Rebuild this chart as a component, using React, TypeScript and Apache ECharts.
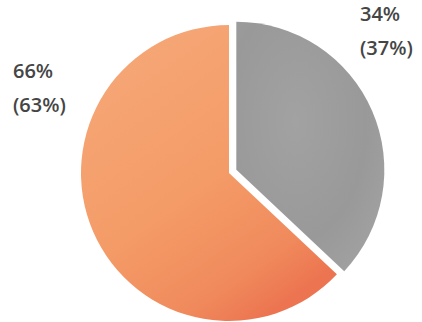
import React, { useEffect, useRef } from "react";
import * as echarts from "echarts";

const categories = ["Gray", "Orange"];
const values = [34, 66];
const compareValues = [37, 63];

export default function App() {
  const ref = useRef<HTMLDivElement>(null);
  useEffect(() => {
    document.body.style.margin = "0";
    const chart = echarts.init(ref.current!, null, { renderer: "svg" });
    const colors = [
      new echarts.graphic.RadialGradient(0.4, 0.4, 0.8, [
        { offset: 0, color: "#a2a2a2" },
        { offset: 0.6, color: "#999999" },
        { offset: 1, color: "#a4a4a4" },
      ]),
      new echarts.graphic.LinearGradient(0.1, 0, 0.7, 1, [
        { offset: 0, color: "#f6a878" },
        { offset: 0.55, color: "#f49c68" },
        { offset: 0.85, color: "#f08a5c" },
        { offset: 1, color: "#ec7450" },
      ]),
    ];
    const labelPos = [
      { x: 360, y: 3 },
      { x: 13, y: 60 },
    ];
    const texts: any[] = [];
    categories.forEach((c, i) => {
      const lines = [`${values[i]}%`, `(${compareValues[i]}%)`];
      lines.forEach((t, j) => {
        texts.push({
          type: "text",
          x: labelPos[i].x,
          y: labelPos[i].y + j * 34,
          style: {
            text: t,
            fontFamily: "Open Sans",
            fontWeight: 600,
            fontSize: 20,
            fill: "#454545",
            textAlign: "left",
            textVerticalAlign: "top",
          },
        });
      });
    });
    chart.setOption({
      animation: false,
      graphic: texts,
      series: [
        {
          type: "pie",
          center: [229, 173],
          radius: 148,
          startAngle: 90,
          clockwise: true,
          selectedMode: "single",
          selectedOffset: 8,
          data: categories.map((c, i) => ({
            name: c,
            value: compareValues[i],
            selected: i === 0,
            itemStyle: { color: colors[i], borderWidth: 0 },
          })),
          label: { show: false },
          labelLine: { show: false },
          emphasis: { disabled: true },
        },
      ],
    });
    return () => chart.dispose();
  }, []);
  return (
    <div
      ref={ref}
      style={{ position: "absolute", left: 0, top: 0, width: 422, height: 322 }}
    />
  );
}
